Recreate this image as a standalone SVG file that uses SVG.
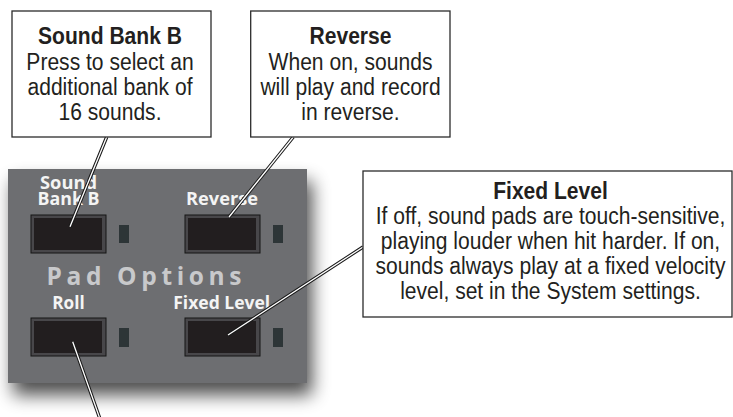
<svg xmlns="http://www.w3.org/2000/svg" width="733" height="417" viewBox="0 0 733 417">
<defs>
<filter id="shadow" x="-20%" y="-20%" width="150%" height="160%">
<feGaussianBlur in="SourceAlpha" stdDeviation="9"/>
<feOffset dx="5" dy="12" result="b"/>
<feComponentTransfer><feFuncA type="linear" slope="0.7"/></feComponentTransfer>
<feMerge><feMergeNode/><feMergeNode in="SourceGraphic"/></feMerge>
</filter>
</defs>
<style>
.box{fill:#fff;stroke:#2b2b2b;stroke-width:1.3}
.bt{font-family:"Liberation Sans",Arial,sans-serif;font-size:24.5px;fill:#231f20;text-anchor:middle}
.b{font-weight:bold}
.pl{font-family:"Open Sans","Liberation Sans",sans-serif;font-weight:bold;font-size:17.5px;fill:#f4f4f4;text-anchor:middle}
.po{font-family:"Open Sans","Liberation Sans",sans-serif;font-weight:bold;font-size:24.5px;fill:#c8c9cb;text-anchor:middle}
.btn-o{fill:#48474a;stroke:#141414;stroke-width:1}
.btn-i{fill:#221e1f}
.led{fill:#2d3537}
.lo{stroke:#1a1a1a;stroke-width:3.4;fill:none}
.li{stroke:#fff;stroke-width:1.3;fill:none}
</style>
<rect width="733" height="417" fill="#fff"/>
<g id="panel">
<rect x="8" y="169" width="299" height="214" fill="#6d6e71" filter="url(#shadow)"/>
<text class="po" x="148" y="285" textLength="203" lengthAdjust="spacing" letter-spacing="8">Pad Options</text>
</g>
<g id="btn-soundbank">
<text class="pl" x="68.5" y="189.3" textLength="57" lengthAdjust="spacingAndGlyphs">Sound</text>
<text class="pl" x="68.5" y="205" textLength="62" lengthAdjust="spacingAndGlyphs">Bank B</text>
<rect class="btn-o" x="31" y="215" width="75" height="38"/>
<rect class="btn-i" x="34" y="218" width="68" height="32"/>
<rect class="led" x="119" y="225" width="10" height="18"/>
</g>
<g id="btn-reverse">
<text class="pl" x="222" y="205" textLength="72" lengthAdjust="spacingAndGlyphs">Reverse</text>
<rect class="btn-o" x="185" y="215" width="75" height="38"/>
<rect class="btn-i" x="188" y="218" width="68" height="32"/>
<rect class="led" x="273" y="225" width="10" height="18"/>
</g>
<g id="btn-roll">
<text class="pl" x="68.5" y="309" textLength="32.5" lengthAdjust="spacingAndGlyphs">Roll</text>
<rect class="btn-o" x="31" y="318" width="75" height="38"/>
<rect class="btn-i" x="34" y="321" width="68" height="32"/>
<rect class="led" x="119" y="328" width="10" height="19"/>
</g>
<g id="btn-fixed">
<text class="pl" x="221.7" y="309" textLength="97" lengthAdjust="spacingAndGlyphs">Fixed Level</text>
<rect class="btn-o" x="185" y="318" width="75" height="38"/>
<rect class="btn-i" x="188" y="321" width="68" height="32"/>
<rect class="led" x="273" y="328" width="10" height="19"/>
</g>
<g id="connectors">
<path class="lo" d="M106.7 137 L70 226.7 M293.3 137 L229 217 M363 247 L228 335 M72.7 341.7 L100 419"/>
<path class="li" d="M106.7 137 L70 226.7 M293.3 137 L229 217 M363 247 L228 335 M72.7 341.7 L100 419"/>
</g>
<g id="note-soundbank">
<rect class="box" x="12" y="11" width="199" height="126"/>
<g transform="translate(110,0) scale(0.86 1)">
<text class="bt b" x="0" y="44.5">Sound Bank B</text>
<text class="bt" x="0" y="70">Press to select an</text>
<text class="bt" x="0" y="95">additional bank of</text>
<text class="bt" x="0" y="120.5">16 sounds.</text>
</g>
</g>
<g id="note-reverse">
<rect class="box" x="250.7" y="11" width="199.3" height="126"/>
<g transform="translate(350.5,0) scale(0.86 1)">
<text class="bt b" x="0" y="44.5">Reverse</text>
<text class="bt" x="0" y="70">When on, sounds</text>
<text class="bt" x="0" y="95">will play and record</text>
<text class="bt" x="0" y="120.5">in reverse.</text>
</g>
</g>
<g id="note-fixed">
<rect class="box" x="363" y="171" width="369" height="146"/>
<g transform="translate(550.5,0) scale(0.86 1)">
<text class="bt b" x="0" y="199">Fixed Level</text>
<text class="bt" x="0" y="224">If off, sound pads are touch-sensitive,</text>
<text class="bt" x="0" y="249">playing louder when hit harder. If on,</text>
<text class="bt" x="0" y="274">sounds always play at a fixed velocity</text>
<text class="bt" x="0" y="299">level, set in the System settings.</text>
</g>
</g>
</svg>
